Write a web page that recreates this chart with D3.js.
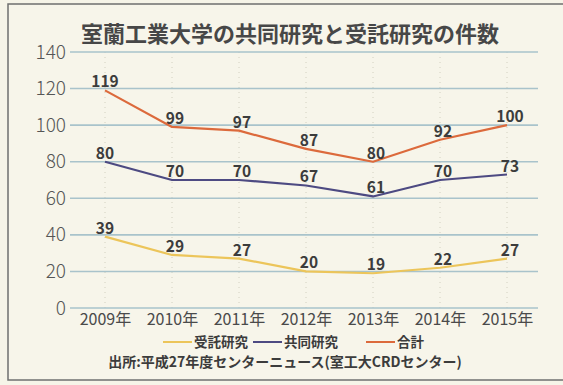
<!DOCTYPE html>
<html><head><meta charset="utf-8">
<script src="https://cdn.jsdelivr.net/npm/d3@7/dist/d3.min.js"></script>
<style>
html,body{margin:0;padding:0;background:#f6f4e8;}
svg{display:block;}
</style></head>
<body>
<svg id="c" width="563" height="385"></svg>
<script>
const years = ["2009年","2010年","2011年","2012年","2013年","2014年","2015年"];
const jutaku = [39,29,27,20,19,22,27];
const kyodo = [80,70,70,67,61,70,73];
const total = [119,99,97,87,80,92,100];
const yTicks = [0,20,40,60,80,100,120,140];
const seriesNames = ["受託研究","共同研究","合計"];
const seriesColors = ["#ecc55a","#4d4a82","#dc6a3c"];
const title = "室蘭工業大学の共同研究と受託研究の件数";
const source = "出所:平成27年度センターニュース(室工大CRDセンター)";

const svg = d3.select("#c");
const font = "'Noto Sans CJK JP','Noto Sans',sans-serif";

// frame
svg.append("rect").attr("x",8).attr("y",4).attr("width",580).attr("height",376)
  .attr("fill","#f7f5ea").attr("stroke","#6f6f6f").attr("stroke-width",1.5);

const x = d3.scalePoint().domain(years).range([105,507]);
const y = d3.scaleLinear().domain([0,140]).range([308,52]);
const gridX0 = 70, gridX1 = 538;

// faint vertical dotted guides
svg.append("g").selectAll("line").data(years).join("line")
  .attr("x1",d=>x(d)).attr("x2",d=>x(d)).attr("y1",y(140)).attr("y2",y(0))
  .attr("stroke","#c9c6b6").attr("stroke-width",0.8).attr("stroke-dasharray","1,4");

// gridlines
svg.append("g").selectAll("line").data(yTicks).join("line")
  .attr("x1",gridX0).attr("x2",gridX1).attr("y1",d=>y(d)).attr("y2",d=>y(d))
  .attr("stroke","#a9c3cb").attr("stroke-width",1.6);

// y labels
const yAxis = d3.axisLeft(y).tickValues(yTicks).tickSize(0).tickPadding(4);
const ga = svg.append("g").attr("transform",`translate(${gridX0},0)`).call(yAxis);
ga.select(".domain").remove();
ga.selectAll("text").attr("font-family",font).attr("font-size",19).attr("font-weight",300)
  .attr("fill","#555").attr("dy","0.32em");

// x labels
const xAxis = d3.axisBottom(x).tickSize(0).tickPadding(0);
const gx = svg.append("g").attr("transform","translate(0,313)").call(xAxis);
gx.select(".domain").remove();
gx.selectAll("text").attr("font-family",font).attr("font-size",16).attr("font-weight",400)
  .attr("fill","#4a4a4a").attr("dy","0.75em");

// title
svg.append("text").attr("x",290).attr("y",42).attr("text-anchor","middle")
  .attr("font-family",font).attr("font-size",22).attr("font-weight",700).attr("fill","#474747")
  .text(title);

// lines
const series = [jutaku,kyodo,total];
const line = d3.line().x((d,i)=>x(years[i])).y(d=>y(d));
series.forEach((s,k)=>{
  svg.append("path").datum(s).attr("d",line).attr("fill","none")
    .attr("stroke",seriesColors[k]).attr("stroke-width",2.2).attr("stroke-linejoin","round");
});
// value labels
series.forEach((s,k)=>{
  svg.append("g").selectAll("text").data(s).join("text")
    .attr("x",(d,i)=>x(years[i])+ (i===0?0:3)).attr("y",d=>y(d)-3)
    .attr("text-anchor","middle").attr("font-family",font).attr("font-size",15.5)
    .attr("font-weight",700).attr("fill","#3c3c3c").text(d=>d);
});

// legend
const legX = [163,253,366];
const lg = svg.append("g");
seriesNames.forEach((n,k)=>{
  lg.append("line").attr("x1",legX[k]).attr("x2",legX[k]+29).attr("y1",342).attr("y2",342)
    .attr("stroke",seriesColors[k]).attr("stroke-width",2);
  lg.append("text").attr("x",legX[k]+31).attr("y",342).attr("dy","0.35em")
    .attr("font-family",font).attr("font-size",13.5).attr("font-weight",700).attr("fill","#3c3c3c").text(n);
});

// source
svg.append("text").attr("x",285).attr("y",362).attr("dy","0.35em").attr("text-anchor","middle")
  .attr("font-family",font).attr("font-size",14).attr("font-weight",700).attr("fill","#3c3c3c")
  .text(source);
</script>
</body></html>
